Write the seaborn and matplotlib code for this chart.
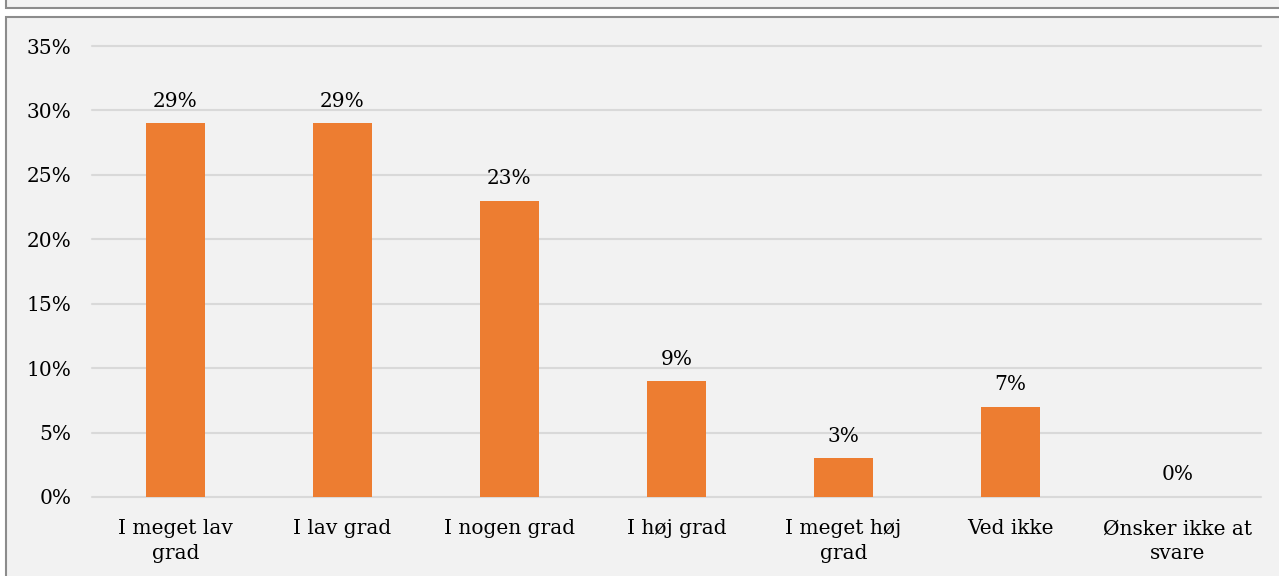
import matplotlib
matplotlib.use("Agg")
import matplotlib.pyplot as plt
from matplotlib.patches import Rectangle
from matplotlib.ticker import FuncFormatter
import seaborn as sns
import pandas as pd

categories = ["I meget lav\ngrad", "I lav grad", "I nogen grad", "I høj grad",
              "I meget høj\ngrad", "Ved ikke", "Ønsker ikke at\nsvare"]
values = [29, 29, 23, 9, 3, 7, 0]
y_ticks = [0, 5, 10, 15, 20, 25, 30, 35]

df = pd.DataFrame({"svar": categories, "andel": values})

sns.set_style("white")
plt.rcParams["font.family"] = ["DejaVu Serif"]

W, H = 1279, 576
fig = plt.figure(figsize=(W / 100, H / 100), dpi=100, facecolor="white")

# outer frames (top strip of previous box + chart box)
fig.add_artist(Rectangle((6 / W, 1 - 7.5 / H), 1.1, 0.2, transform=fig.transFigure,
                         facecolor="#f2f2f2", edgecolor="#8c8c8c", linewidth=1.5, zorder=0))
fig.add_artist(Rectangle((6 / W, -0.2), 1.1, 1.2 - 17 / H, transform=fig.transFigure,
                         facecolor="#f2f2f2", edgecolor="#8c8c8c", linewidth=1.5, zorder=0))

ax = fig.add_axes([92 / W, 1 - 497 / H, 1169 / W, (497 - 46) / H])
ax.set_facecolor("none")

sns.barplot(data=df, x="svar", y="andel", color="#ED7D31", width=0.353,
            saturation=1, linewidth=0, ax=ax, zorder=3)

ax.bar_label(ax.containers[0], labels=[f"{v}%" for v in values], padding=9,
             fontsize=14.5, color="black")

ax.set_ylim(0, 35)
ax.set_yticks(y_ticks)
ax.yaxis.set_major_formatter(FuncFormatter(lambda v, p: f"{int(v)}%"))
ax.grid(axis="y", color="#d9d9d9", linewidth=1.5, zorder=0)
for gl in ax.get_ygridlines():
    gl.set_clip_on(False)
ax.set_axisbelow(True)
for s in ax.spines.values():
    s.set_visible(False)
ax.tick_params(axis="both", length=0, labelsize=14.5, labelcolor="black")
ax.tick_params(axis="y", pad=15)
ax.tick_params(axis="x", pad=16)
ax.set_xlabel("")
ax.set_ylabel("")
for t in ax.get_xticklabels():
    t.set_linespacing(1.4)

fig.savefig("out.png", dpi=100, facecolor="white")
